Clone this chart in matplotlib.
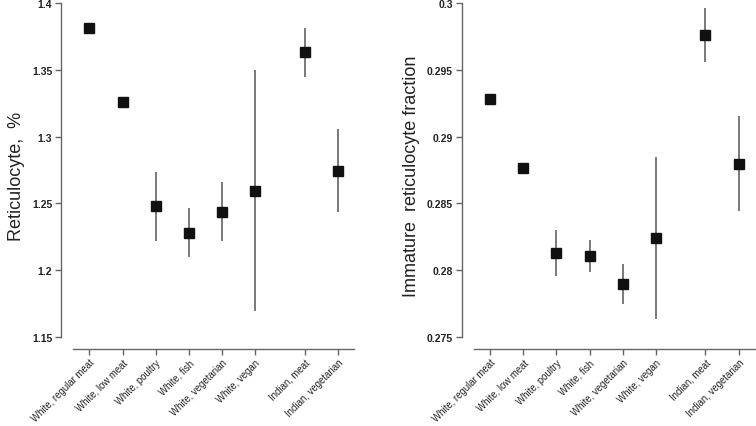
import matplotlib
matplotlib.use("Agg")
import matplotlib.pyplot as plt

plt.rcParams['font.family'] = ['Liberation Sans', 'DejaVu Sans']

# categories (gap between the white and indian groups)
groups = ["White, regular meat", "White, low meat", "White, poultry", "White, fish",
          "White, vegetarian", "White, vegan", "Indian, meat", "Indian, vegetarian"]
xpos = [1, 2, 3, 4, 5, 6, 7.5, 8.5]

# reticulocyte, %
ret_mean = [1.3813, 1.3259, 1.2480, 1.2281, 1.2438, 1.2593, 1.3631, 1.2745]
ret_lo = [1.3775, 1.3219, 1.2221, 1.2101, 1.2216, 1.1695, 1.3448, 1.2433]
ret_hi = [1.3850, 1.3299, 1.2737, 1.2463, 1.2660, 1.3496, 1.3811, 1.3057]

# immature reticulocyte fraction
irf_mean = [0.29280, 0.28763, 0.28129, 0.28106, 0.27899, 0.28241, 0.29760, 0.28797]
irf_lo = [0.29265, 0.28748, 0.27957, 0.27984, 0.27747, 0.27637, 0.29556, 0.28445]
irf_hi = [0.29295, 0.28778, 0.28303, 0.28226, 0.28046, 0.28845, 0.29965, 0.29152]

fig = plt.figure(figsize=(7.56, 4.27), dpi=100)
ax1 = fig.add_axes([0.0807, 0.1803, 0.389, 0.8134])
ax2 = fig.add_axes([0.6107, 0.1803, 0.389, 0.8134])


def panel(ax, mean, lo, hi, yticks, ylim, ylabel):
    yerr = [[m - l for m, l in zip(mean, lo)], [h - m for m, h in zip(mean, hi)]]
    ax.errorbar(xpos, mean, yerr=yerr, fmt='none', ecolor='#555555', elinewidth=1.1, capsize=0)
    ax.plot(xpos, mean, 's', color='#111111', markersize=7.2, markeredgecolor='#111111', zorder=3)
    ax.set_xlim(0.14, 9.02)
    ax.set_ylim(*ylim)
    ax.set_yticks(yticks)
    ax.set_yticklabels([('%g' % t) for t in yticks], fontsize=7.5, fontweight='bold', color='#222222')
    ax.set_xticks(xpos)
    ax.set_xticklabels(groups, rotation=45, ha='right', rotation_mode='anchor',
                       fontsize=6.9, color='#222222')
    for s in ['top', 'right']:
        ax.spines[s].set_visible(False)
    ax.spines['left'].set_bounds(yticks[0], yticks[-1])
    ax.spines['bottom'].set_bounds(0.5, 9.0)
    for s in ['left', 'bottom']:
        ax.spines[s].set_color('#666666')
        ax.spines[s].set_linewidth(1.0)
    ax.tick_params(axis='both', direction='out', length=4.3, width=1.0, color='#666666', pad=2)
    ax.tick_params(axis='x', pad=1.5)
    ax.set_ylabel(ylabel, fontsize=13, color='#222222', labelpad=5)


panel(ax1, ret_mean, ret_lo, ret_hi, [1.15, 1.2, 1.25, 1.3, 1.35, 1.4],
      (1.141, 1.401), "Reticulocyte,  %")
panel(ax2, irf_mean, irf_lo, irf_hi, [0.275, 0.28, 0.285, 0.29, 0.295, 0.3],
      (0.2741, 0.3001), "Immature  reticulocyte fraction")

fig.savefig("out.png", dpi=100)
